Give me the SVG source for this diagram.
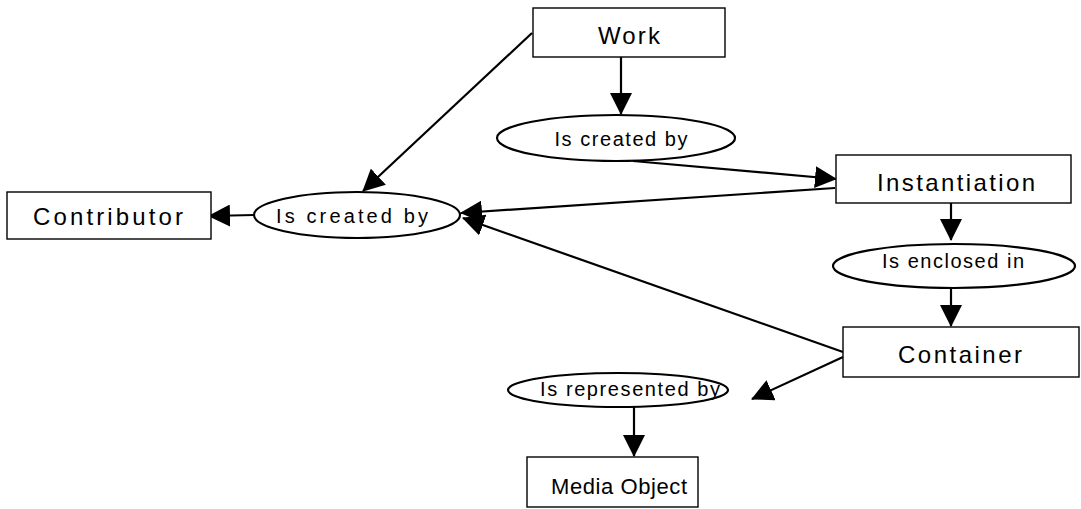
<svg xmlns="http://www.w3.org/2000/svg" width="1081" height="509" viewBox="0 0 1081 509">
  <style>
    .box { fill: #fff; stroke: #000; stroke-width: 1.4; }
    .rel { fill: #fff; stroke: #000; stroke-width: 2.2; }
    .lbl { font-family: "Liberation Sans", Arial, sans-serif; font-size: 24px; fill: #000; text-anchor: middle; }
    .rlbl { font-family: "Liberation Sans", Arial, sans-serif; font-size: 20px; fill: #000; text-anchor: middle; }
    .edge { stroke: #000; stroke-width: 2.2; fill: none; marker-end: url(#head); }
  </style>
  <defs>
    <marker id="head" viewBox="0 0 22 22" markerWidth="22" markerHeight="22" refX="21" refY="11" orient="auto" markerUnits="userSpaceOnUse">
      <path d="M0,0 L22,11 L0,22 Z" fill="#000"/>
    </marker>
  </defs>
  <rect width="1081" height="509" fill="#fff"/>

  <g id="connectors">
    <line class="edge" x1="621" y1="57" x2="621" y2="114"/>
    <line class="edge" x1="633" y1="161" x2="836" y2="179"/>
    <line class="edge" x1="532" y1="33" x2="363" y2="191"/>
    <line class="edge" x1="835" y1="188" x2="461" y2="213"/>
    <line class="edge" x1="843" y1="352" x2="463" y2="218"/>
    <line class="edge" x1="254" y1="215" x2="209" y2="216"/>
    <line class="edge" x1="951" y1="203" x2="951" y2="240"/>
    <line class="edge" x1="951" y1="288" x2="951" y2="326"/>
    <line class="edge" x1="843" y1="357" x2="752" y2="399"/>
    <line class="edge" x1="634" y1="407" x2="634" y2="456"/>
  </g>

  <g id="work">
    <rect class="box" x="533" y="8" width="192" height="49"/>
    <text class="lbl" x="629" y="44" textLength="62" lengthAdjust="spacing">Work</text>
  </g>
  <g id="rel-created-top">
    <ellipse class="rel" cx="616" cy="138" rx="119" ry="23"/>
    <text class="rlbl" x="621" y="146" textLength="133" lengthAdjust="spacing">Is created by</text>
  </g>
  <g id="instantiation">
    <rect class="box" x="836" y="155" width="235" height="48"/>
    <text class="lbl" x="956" y="191" textLength="158" lengthAdjust="spacing">Instantiation</text>
  </g>
  <g id="rel-created-left">
    <ellipse class="rel" cx="357" cy="215" rx="103" ry="23"/>
    <text class="rlbl" x="352" y="223" textLength="152" lengthAdjust="spacing">Is created by</text>
  </g>
  <g id="contributor">
    <rect class="box" x="7" y="192" width="204" height="47"/>
    <text class="lbl" x="108" y="225" textLength="150" lengthAdjust="spacing">Contributor</text>
  </g>
  <g id="rel-enclosed">
    <ellipse class="rel" cx="954" cy="266" rx="121" ry="22"/>
    <text class="rlbl" x="953" y="268" textLength="142" lengthAdjust="spacing">Is enclosed in</text>
  </g>
  <g id="container">
    <rect class="box" x="843" y="327" width="236" height="50"/>
    <text class="lbl" x="960" y="363" textLength="124" lengthAdjust="spacing">Container</text>
  </g>
  <g id="rel-represented">
    <ellipse class="rel" cx="618" cy="390" rx="110" ry="17"/>
    <text class="rlbl" x="630" y="396" textLength="180" lengthAdjust="spacing">Is represented by</text>
  </g>
  <g id="media-object">
    <rect class="box" x="527" y="457" width="171" height="50"/>
    <text class="lbl" x="619" y="494" style="font-size:22px" textLength="136" lengthAdjust="spacing">Media Object</text>
  </g>
</svg>
